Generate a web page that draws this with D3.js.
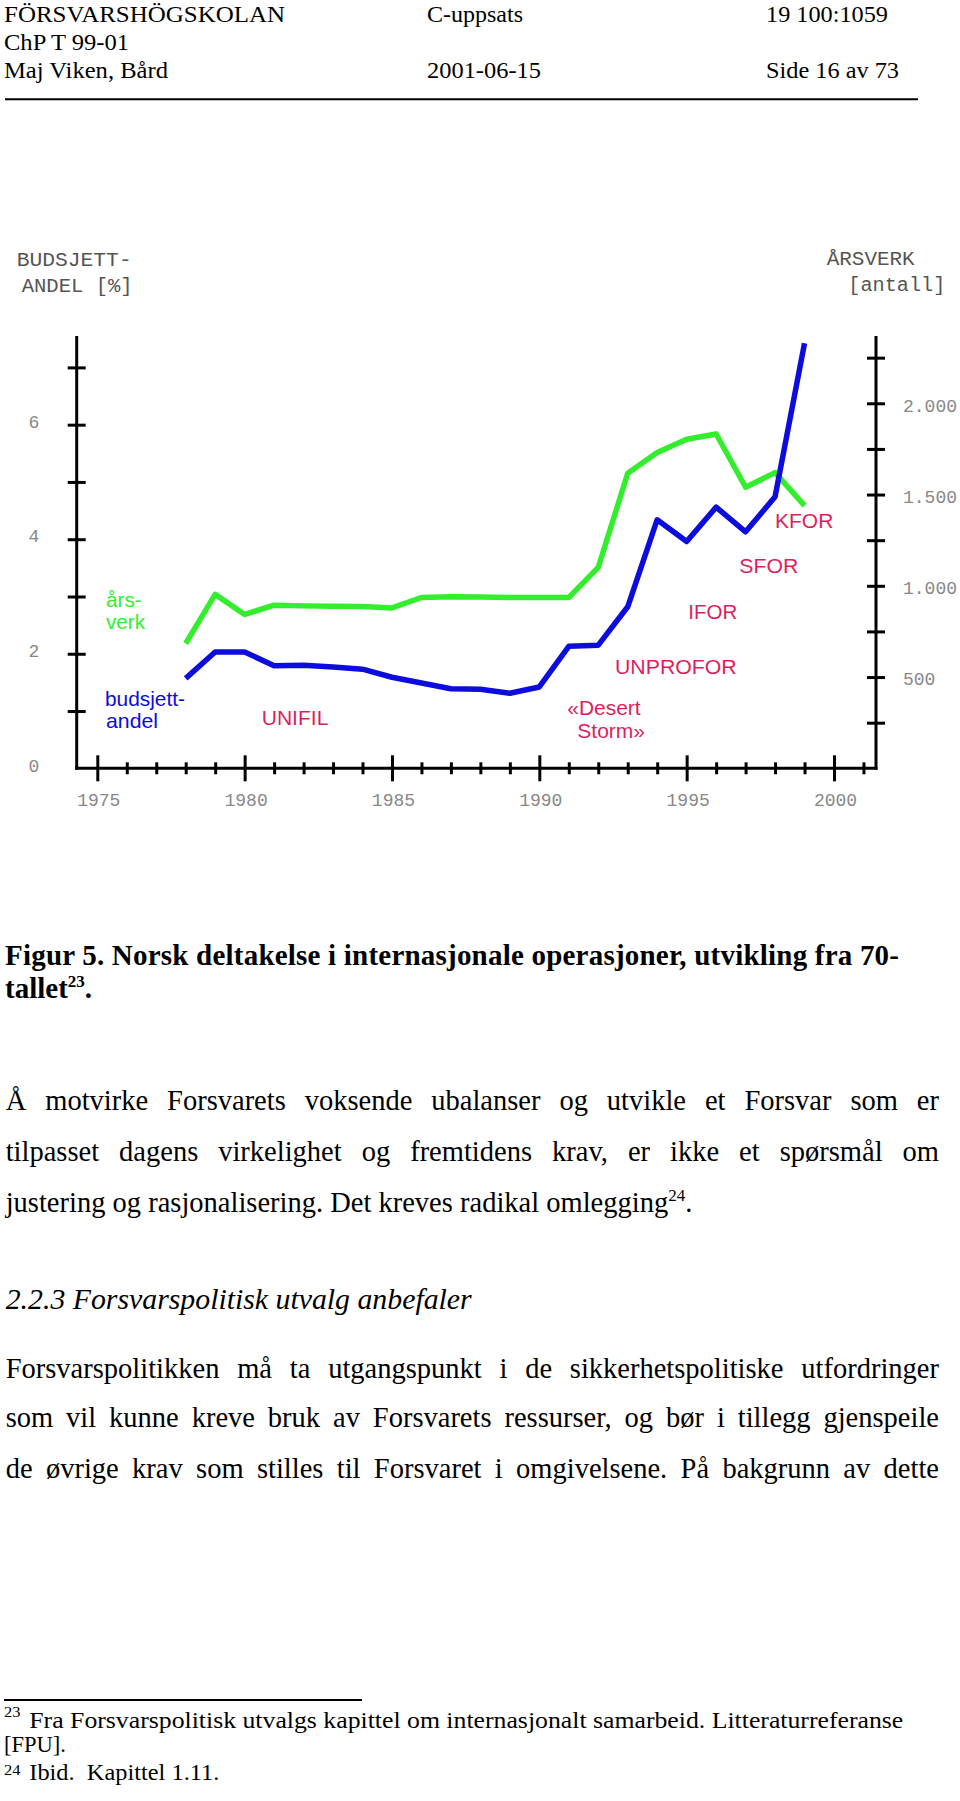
<!DOCTYPE html>
<html>
<head>
<meta charset="utf-8">
<script src="https://cdn.jsdelivr.net/npm/d3@7"></script>
<style>
  html, body { margin: 0; padding: 0; background: #fff; }
  svg { display: block; }
  text { white-space: pre; }
</style>
</head>
<body>
<svg id="page" width="960" height="1801"></svg>
<script>
// ---------------- DATA ----------------
const years = [1978,1979,1980,1981,1982,1983,1984,1985,1986,1987,1988,1989,1990,1991,1992,1993,1994,1995,1996,1997,1998,1999];
const budsjettandel = [1.57,2.03,2.03,1.79,1.80,1.77,1.73,1.59,1.49,1.39,1.38,1.31,1.42,2.13,2.15,2.82,4.34,3.96,4.56,4.13,4.74,7.42];
const arsverk = [684,953,843,894,890,888,886,879,936,940,938,936,936,936,1101,1617,1730,1803,1832,1540,1620,1439];

const xTickYears = d3.range(1975, 2002);
const xMajorYears = [1975,1980,1985,1990,1995,2000];
const leftTicks = [1,2,3,4,5,6,7];
const leftTickLabels = [0,2,4,6];
const rightTicks = [250,500,750,1000,1250,1500,1750,2000,2250];
const rightTickLabels = [500,1000,1500,2000];
const rightTickText = ["500","1.000","1.500","2.000"];

const operationLabels = ["UNIFIL","«Desert","Storm»","UNPROFOR","IFOR","SFOR","KFOR"];
const seriesLabels = [["års-","verk"],["budsjett-","andel"]];

// ---------------- LAYOUT ----------------
const svg = d3.select("#page");
svg.append("rect").attr("width",960).attr("height",1801).attr("fill","#fff");

const frame = {left:76.7, right:876, top:336, bottom:768.3};
const x = d3.scaleLinear().domain([1975,2000]).range([97.3,834]);
const yL = d3.scaleLinear().domain([0,7]).range([768.3,367.4]);
const yR = d3.scaleLinear().domain([0,2000]).range([768.3,403.3]);

const SERIF = "'Liberation Serif','Times New Roman',serif";
const SANS = "'Liberation Sans',Arial,sans-serif";
const MONO = "'Liberation Mono','Courier New',monospace";

function txt(g, xx, yy, s, o) {
  const t = g.append("text").attr("x", xx).attr("y", yy).text(s)
    .attr("font-family", o.font || SERIF)
    .attr("font-size", o.size || 24)
    .attr("fill", o.fill || "#000");
  if (o.weight) t.attr("font-weight", o.weight);
  if (o.style) t.attr("font-style", o.style);
  if (o.anchor) t.attr("text-anchor", o.anchor);
  if (o.w) t.attr("textLength", o.w).attr("lengthAdjust", o.adjust || "spacingAndGlyphs");
  return t;
}

// ---------------- HEADER ----------------
const hdr = svg.append("g");
txt(hdr, 4, 21.7, "FÖRSVARSHÖGSKOLAN", {size:24, w:281});
txt(hdr, 427, 21.7, "C-uppsats", {size:24, w:96});
txt(hdr, 766, 21.7, "19 100:1059", {size:24, w:122});
txt(hdr, 4, 50, "ChP T 99-01", {size:24, w:125});
txt(hdr, 4, 78.3, "Maj Viken, Bård", {size:24, w:164});
txt(hdr, 427, 78.3, "2001-06-15", {size:24, w:114});
txt(hdr, 766, 78.3, "Side 16 av 73", {size:24, w:133});
hdr.append("line").attr("x1",5).attr("x2",918).attr("y1",99.3).attr("y2",99.3)
  .attr("stroke","#000").attr("stroke-width",2);

// ---------------- CHART ----------------
const ch = svg.append("g");

// axis titles
txt(ch, 16.7, 266, "BUDSJETT-", {font:MONO, size:20, fill:"#555", w:115});
txt(ch, 21.7, 291.7, "ANDEL [%]", {font:MONO, size:20, fill:"#555", w:111});
txt(ch, 826.7, 265, "ÅRSVERK", {font:MONO, size:20, fill:"#555", w:88});
txt(ch, 848.3, 291, "[antall]", {font:MONO, size:20, fill:"#555", w:97});

// axis lines
const axisStroke = {stroke:"#000", w:3};
ch.append("line").attr("x1",frame.left).attr("x2",frame.left).attr("y1",frame.top).attr("y2",frame.bottom+1.5)
  .attr("stroke",axisStroke.stroke).attr("stroke-width",axisStroke.w);
ch.append("line").attr("x1",frame.right).attr("x2",frame.right).attr("y1",frame.top).attr("y2",frame.bottom+1.5)
  .attr("stroke",axisStroke.stroke).attr("stroke-width",axisStroke.w);
ch.append("line").attr("x1",frame.left-1.5).attr("x2",frame.right+1.5).attr("y1",frame.bottom).attr("y2",frame.bottom)
  .attr("stroke",axisStroke.stroke).attr("stroke-width",axisStroke.w);

// left axis ticks
const gL = ch.append("g").attr("transform",`translate(${frame.left},0)`)
  .call(d3.axisLeft(yL).tickValues(leftTicks).tickFormat("").tickSize(9));
gL.select(".domain").remove();
gL.selectAll(".tick line").attr("x1",-9).attr("x2",9).attr("stroke","#000").attr("stroke-width",3);

// right axis ticks
const gR = ch.append("g").attr("transform",`translate(${frame.right},0)`)
  .call(d3.axisRight(yR).tickValues(rightTicks).tickFormat("").tickSize(9));
gR.select(".domain").remove();
gR.selectAll(".tick line").attr("x1",-9).attr("x2",9).attr("stroke","#000").attr("stroke-width",3);

// bottom axis ticks
const gB = ch.append("g").attr("transform",`translate(0,${frame.bottom})`)
  .call(d3.axisBottom(x).tickValues(xTickYears).tickFormat("").tickSize(6));
gB.select(".domain").remove();
gB.selectAll(".tick line")
  .attr("y1", d => xMajorYears.includes(d) ? -13 : -6)
  .attr("y2", d => xMajorYears.includes(d) ? 13 : 6)
  .attr("stroke","#000").attr("stroke-width",3);

// tick labels
leftTickLabels.forEach(v => txt(ch, 34, yL(v)+3.2, String(v), {font:MONO, size:18, fill:"#888", anchor:"middle"}));
rightTickLabels.forEach((v,i) => txt(ch, 903, yR(v)+8.2, rightTickText[i], {font:MONO, size:18, fill:"#888"}));
xMajorYears.forEach(v => txt(ch, x(v)+1.5, 805.7, String(v), {font:MONO, size:18, fill:"#888", anchor:"middle"}));

// lines
const GREEN = "#33ee2c", BLUE = "#0c0cdc", RED = "#dc1f5c";
const lineL = d3.line().x((d,i)=>x(years[i])).y(d=>yL(d));
const lineR = d3.line().x((d,i)=>x(years[i])).y(d=>yR(d));
ch.append("path").attr("d", lineR(arsverk)).attr("fill","none").attr("stroke",GREEN)
  .attr("stroke-width",5.5).attr("stroke-linejoin","round");
ch.append("path").attr("d", lineL(budsjettandel)).attr("fill","none").attr("stroke",BLUE)
  .attr("stroke-width",5.5).attr("stroke-linejoin","round");

// series labels
txt(ch, 106, 606.7, seriesLabels[0][0], {font:SANS, size:21, fill:GREEN, w:35.7});
txt(ch, 106, 629.3, seriesLabels[0][1], {font:SANS, size:21, fill:GREEN, w:39});
txt(ch, 105, 705.7, seriesLabels[1][0], {font:SANS, size:21, fill:BLUE, w:80});
txt(ch, 106, 728.3, seriesLabels[1][1], {font:SANS, size:21, fill:BLUE, w:52});

// operation labels (anchored in chart space)
const opPos = [[261.7,725,66.7],[567.3,715,73.3],[577.3,737.7,67.7],[615,674.3,121.7],[688.3,619,49],[739.3,573.3,59],[775,527.7,58.3]];
operationLabels.forEach((s,i) => txt(ch, opPos[i][0], opPos[i][1], s, {font:SANS, size:21, fill:RED, w:opPos[i][2]}));

// ---------------- CAPTION ----------------
const cap = svg.append("g");
txt(cap, 5, 965, "Figur 5. Norsk deltakelse i internasjonale operasjoner, utvikling fra 70-", {size:29, weight:"bold", w:894, adjust:"spacing"});
const c2 = cap.append("text").attr("x",5).attr("y",998.3).attr("font-family",SERIF).attr("font-size",29).attr("font-weight","bold");
c2.append("tspan").text("tallet");
c2.append("tspan").attr("dy",-11).attr("font-size",17).text("23");
c2.append("tspan").attr("dy",11).text(".");

// ---------------- BODY ----------------
const body = svg.append("g");
function justify(g, line, x0, x1, yy, o) {
  const words = line.split(" ");
  const nodes = words.map(w => txt(g, 0, yy, w, o));
  const widths = nodes.map(n => n.node().getComputedTextLength());
  const gap = (x1 - x0 - d3.sum(widths)) / (words.length - 1);
  let cx = x0;
  nodes.forEach((n,i) => { n.attr("x", cx); cx += widths[i] + gap; });
}
const BS = 28.5;
justify(body, "Å motvirke Forsvarets voksende ubalanser og utvikle et Forsvar som er", 5.7, 939, 1110, {size:BS});
justify(body, "tilpasset dagens virkelighet og fremtidens krav, er ikke et spørsmål om", 5.7, 939, 1161, {size:BS});
const b3 = body.append("text").attr("x",5.7).attr("y",1211.5).attr("font-family",SERIF).attr("font-size",BS);
b3.append("tspan").text("justering og rasjonalisering. Det kreves radikal omlegging");
b3.append("tspan").attr("dy",-11).attr("font-size",17).text("24");
b3.append("tspan").attr("dy",11).text(".");

txt(body, 5.7, 1309, "2.2.3 Forsvarspolitisk utvalg anbefaler", {size:BS, style:"italic", w:466});

justify(body, "Forsvarspolitikken må ta utgangspunkt i de sikkerhetspolitiske utfordringer", 5.7, 939, 1378, {size:BS});
justify(body, "som vil kunne kreve bruk av Forsvarets ressurser, og bør i tillegg gjenspeile", 5.7, 939, 1427, {size:BS});
justify(body, "de øvrige krav som stilles til Forsvaret i omgivelsene. På bakgrunn av dette", 5.7, 939, 1478, {size:BS});

// ---------------- FOOTNOTES ----------------
const fn = svg.append("g");
fn.append("line").attr("x1",4).attr("x2",362).attr("y1",1700).attr("y2",1700).attr("stroke","#000").attr("stroke-width",2);
txt(fn, 4, 1716.5, "23", {size:15, w:16.5});
txt(fn, 29.3, 1728.3, "Fra Forsvarspolitisk utvalgs kapittel om internasjonalt samarbeid. Litteraturreferanse", {size:23.5, w:874});
txt(fn, 4, 1751.7, "[FPU].", {size:23.5, w:62});
txt(fn, 4, 1774.5, "24", {size:15, w:16.5});
txt(fn, 29.3, 1780, "Ibid.  Kapittel 1.11.", {size:23.5, w:190});
</script>
</body>
</html>
